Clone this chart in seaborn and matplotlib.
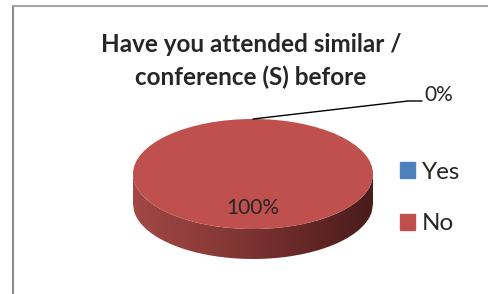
import numpy as np
import matplotlib
matplotlib.use("Agg")
import matplotlib.pyplot as plt
import seaborn as sns
from matplotlib.colors import LinearSegmentedColormap
from matplotlib.path import Path
from matplotlib.patches import PathPatch, Rectangle

sns.set_theme(style="white")
plt.rcParams['font.family'] = ['Lato', 'DejaVu Sans']

labels = ["Yes", "No"]
values = [0, 100]
colors = ["#4f81bd", "#c0504d"]
title = "Have you attended similar /\nconference (S) before"

W, H = 489, 294
fig = plt.figure(figsize=(W / 100, H / 100), dpi=100)
fig.patch.set_facecolor("white")

# chart frame (only left and top edges visible in the crop)
fig.add_artist(plt.Line2D([13 / W, 13 / W], [0, 1 - 6 / H], color="#8a8a8a", lw=1.5))
fig.add_artist(plt.Line2D([13 / W, 1], [1 - 6 / H, 1 - 6 / H], color="#a6a6a6", lw=1.5))

# pie axes: x -1..1 spans 240 px, y spans ry=55 px per unit
cx, cy, rx, ry, depth = 253, 174, 120, 55, 30
d = depth / ry
left = (cx - rx) / W
bottom = 1 - (cy + ry + depth) / H
ax = fig.add_axes([left, bottom, 2 * rx / W, (2 * ry + depth) / H])

# side wall of the 3D pie
xs = np.linspace(-1, 1, 200)
top_edge = -np.sqrt(1 - xs ** 2)
verts = list(zip(xs, top_edge)) + list(zip(xs[::-1], top_edge[::-1] - d))
side = PathPatch(Path(verts + [verts[0]]), facecolor="none", edgecolor="none")
ax.add_patch(side)
side_cmap = LinearSegmentedColormap.from_list(
    "side", ["#a24846", "#8a3b39", "#6a2a29", "#4a1c1c"])
grad = ax.imshow(np.linspace(0, 1, 256)[None, :], cmap=side_cmap, aspect="auto",
                 extent=[-1, 1, -1 - d, 0], zorder=1)
grad.set_clip_path(side)

wedges, _ = ax.pie(values, colors=colors, startangle=90, counterclock=False,
                   radius=1, frame=True, wedgeprops=dict(linewidth=0))
for w in wedges:
    w.set_zorder(2)
ax.set_xlim(-1, 1)
ax.set_ylim(-1 - d, 1)
ax.set_aspect("auto")
ax.axis("off")

# data labels
ang = np.deg2rad(wedges[0].theta1)
fig.canvas.draw()
px, py = ax.transData.transform((np.cos(ang), np.sin(ang)))
knee = (408, H - 101)
end = (422, H - 101)
fig.add_artist(plt.Line2D([px / W, knee[0] / W, end[0] / W],
                          [py / H, knee[1] / H, end[1] / H], color="black", lw=1))
fig.text(424 / W, 1 - 95 / H, f"{values[0]}%", fontsize=15, va="center", ha="left")
ax.text(0, -0.62, f"{values[1]}%", ha="center", va="center", fontsize=15, zorder=3)

fig.text(251 / W, 1 - 61 / H, title, ha="center", va="center", fontsize=17.5,
         fontweight="bold", linespacing=1.45)

handles = [Rectangle((0, 0), 1, 1, color=c) for c in colors]
fig.legend(handles, labels, loc="center left", bbox_to_anchor=(378 / W, 1 - 198 / H),
           frameon=False, fontsize=17.5, handlelength=0.62, handleheight=0.62,
           handletextpad=0.3, labelspacing=1.25)

fig.savefig("out.png", dpi=100)
